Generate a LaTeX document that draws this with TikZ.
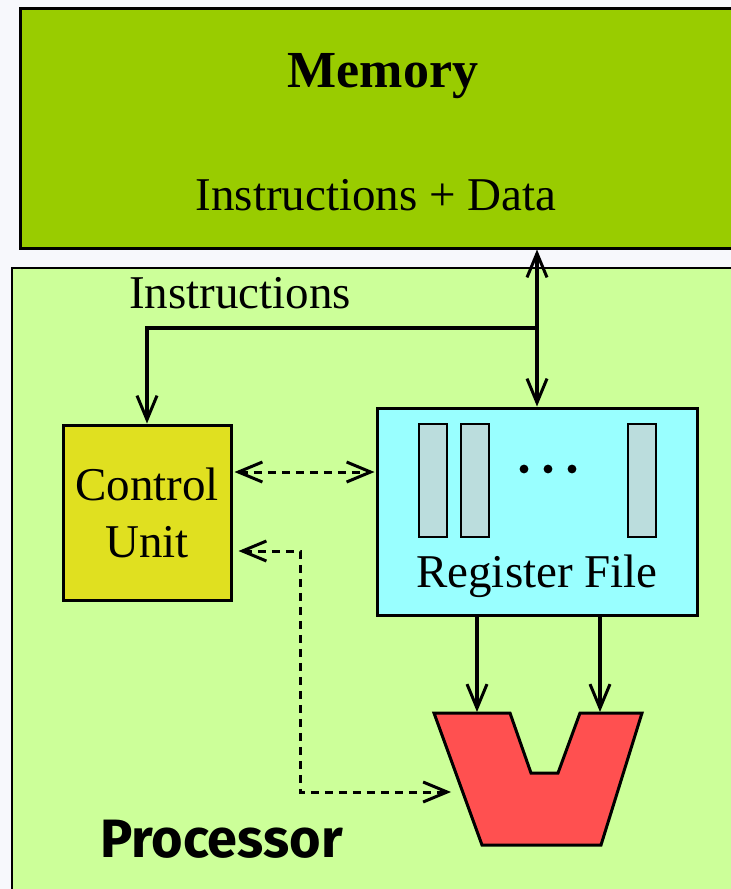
\documentclass[tikz,border=0pt]{standalone}
\usepackage{fontspec}
\setmainfont{Liberation Serif}
\newfontfamily\labelfont{Fira Sans}
\usetikzlibrary{positioning, arrows.meta, calc}

\definecolor{memgreen}{HTML}{99CC00}
\definecolor{procgreen}{HTML}{CCFF99}
\definecolor{ctrlyellow}{HTML}{E0E020}
\definecolor{regcyan}{HTML}{99FFFF}
\definecolor{regcell}{HTML}{BBDDDD}
\definecolor{alured}{HTML}{FF5050}
\definecolor{pagebg}{HTML}{F7F8FC}

\tikzset{
  unitbox/.style={draw, line width=3pt, inner sep=0pt},
  cellbox/.style={draw, line width=2.6pt, fill=regcell, minimum width=28pt, minimum height=113pt, inner sep=0pt},
  bigtext/.style={font=\fontsize{47}{57}\selectfont},
  wire/.style={line width=3.4pt},
  dashwire/.style={line width=3pt, dash pattern=on 8pt off 6pt},
  >={Straight Barb[length=24pt,width=20pt,line width=3pt]}
}

\begin{document}
\begin{tikzpicture}[x=1pt, y=-1pt]
  \fill[pagebg] (0,0) rectangle (731,889);
  \useasboundingbox (0,0) rectangle (731,889);

  % Memoria
  \node[unitbox, fill=memgreen, minimum width=720pt, minimum height=240pt] (memory) at (380,128) {};
  \node[anchor=base, font=\fontsize{52}{60}\selectfont\bfseries] (memtitle) at (383,87) {Memory};
  \node[anchor=base, bigtext] (memdata) at (376,210) {Instructions + Data};

  % Processador
  \node[draw, line width=2.6pt, fill=procgreen, minimum width=733pt, minimum height=632pt, inner sep=0pt] (processor) at (378.5,584) {};
  \node[anchor=base west, font=\labelfont\fontsize{54}{60}\selectfont\bfseries, inner sep=0pt] (proclabel) at (100,857) {Processor};

  % Unidade de controle e banco de registradores
  \node[unitbox, fill=ctrlyellow, minimum width=168pt, minimum height=175pt, bigtext, align=center] (ctrl) at (147,512.5) {Control\\Unit};
  \node[unitbox, fill=regcyan, minimum width=320pt, minimum height=207pt] (regfile) at (537,511.5) {};
  \node[anchor=base, bigtext] (reglabel) at (537,587) {Register File};
  \node[cellbox] (reg1) at (433,480.5) {};
  \node[cellbox] (reg2) at (475,480.5) {};
  \node[cellbox] (reg3) at (642,480.5) {};
  \foreach \x in {524,548,572}
    \fill (\x,469) circle (4.4pt);

  % ULA
  \draw[line width=3pt, fill=alured] (434,713) -- (510,713) -- (531,773) -- (558,773)
    -- (580,713) -- (642,713) -- (601,845) -- (482,845) -- cycle;
  \coordinate (aluA) at (477,712);
  \coordinate (aluB) at (600,712);
  \coordinate (aluC) at (451,792);

  % Barramentos
  \coordinate (split) at (537,328);
  \draw[wire, <->] (regfile.north |- memory.south) -- (regfile.north);
  \draw[wire, ->] (split) -| (ctrl.north);
  \node[anchor=base, bigtext] (instr) at (240,308) {Instructions};
  \draw[wire, ->] (aluA |- regfile.south) -- (aluA);
  \draw[wire, ->] (aluB |- regfile.south) -- (aluB);

  % Sinais de controle
  \draw[dashwire, <->] ($(ctrl.east |- 0,472)+(2,0)$) -- ($(regfile.west |- 0,472)+(-1,0)$);
  \draw[dashwire, <->] ($(ctrl.east |- 0,551)+(6,0)$) -| (300,792) -- (aluC);
\end{tikzpicture}
\end{document}
